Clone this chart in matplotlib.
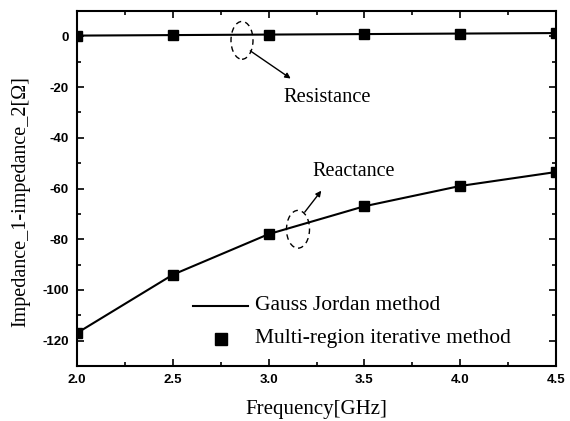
import matplotlib
matplotlib.use("Agg")
import matplotlib.pyplot as plt
from matplotlib.patches import Ellipse
from matplotlib.ticker import MultipleLocator, FormatStrFormatter

plt.rcParams["axes.unicode_minus"] = False

freq = [2.0, 2.5, 3.0, 3.5, 4.0, 4.5]
resistance = [0.3, 0.5, 0.7, 0.9, 1.1, 1.3]
reactance = [-117.0, -94.0, -78.0, -67.0, -59.0, -53.5]

serif = "Liberation Serif"
sans = "Liberation Sans"

fig = plt.figure(figsize=(5.7, 4.21), dpi=100)
ax = fig.add_axes([77/570, 1 - 366/421, (556-77)/570, (366-11)/421])

for y in (resistance, reactance):
    ax.plot(freq, y, color="black", lw=1.5, zorder=2)
    ax.plot(freq, y, ls="none", marker="s", ms=6.5, color="black", zorder=3)

ax.set_xlim(2.0, 4.5)
ax.set_ylim(-130, 10)
ax.xaxis.set_major_locator(MultipleLocator(0.5))
ax.xaxis.set_minor_locator(MultipleLocator(0.25))
ax.yaxis.set_minor_locator(MultipleLocator(10))
ax.set_yticks([0, -20, -40, -60, -80, -100, -120])
ax.xaxis.set_major_formatter(FormatStrFormatter("%.1f"))
ax.tick_params(which="both", direction="in", top=True, right=True, width=1.2)
ax.tick_params(which="major", length=5, labelsize=9.5, pad=6)
ax.tick_params(which="minor", length=3)
for lab in ax.get_xticklabels() + ax.get_yticklabels():
    lab.set_family(sans)
    lab.set_fontweight("bold")
for s in ax.spines.values():
    s.set_linewidth(1.5)

ax.set_xlabel("Frequency[GHz]", family=serif, fontsize=15, labelpad=10)
ax.set_ylabel("Impedance_1-impedance_2[Ω]", family=serif, fontsize=14.5)
ax.yaxis.set_label_coords(-0.098, 0.462)

# annotations
def px2data(px, py):
    x0, x1 = 77, 556
    y0, y1 = 34, 340
    return 2.0 + (px - x0) / (x1 - x0) * 2.5, 0 + (py - y0) / (y1 - y0) * (-120)

ex, ey = px2data(242, 38)
ax.add_patch(Ellipse((ex, ey), 22/479*2.5, 38/306*120, fill=False, ls=(0, (4, 3)), lw=1.0, color="black"))
ex2, ey2 = px2data(298, 228)
ax.add_patch(Ellipse((ex2, ey2), 23/479*2.5, 38/306*120, fill=False, ls=(0, (4, 3)), lw=1.0, color="black"))

ax.annotate("", xy=px2data(293, 78), xytext=px2data(248, 47),
            arrowprops=dict(arrowstyle="-|>", color="black", lw=1.0, mutation_scale=8))
ax.annotate("", xy=px2data(323, 187), xytext=px2data(303, 213),
            arrowprops=dict(arrowstyle="-|>", color="black", lw=1.0, mutation_scale=8))

tx, ty = px2data(327, 95)
ax.text(tx, ty, "Resistance", family=serif, fontsize=14.8, ha="center", va="center")
tx, ty = px2data(354, 170)
ax.text(tx, ty, "Reactance", family=serif, fontsize=14.5, ha="center", va="center")

# legend
lx0, ly = px2data(193, 305)
lx1, _ = px2data(248, 305)
ax.plot([lx0, lx1], [ly, ly], color="black", lw=1.5)
ax.text(px2data(255, 305)[0], ly, "Gauss Jordan method", family=serif, fontsize=15.5, va="center")
mx, my = px2data(221, 338)
ax.plot([mx], [my], ls="none", marker="s", ms=8, color="black")
ax.text(px2data(255, 338)[0], my, "Multi-region iterative method", family=serif, fontsize=15.5, va="center")

fig.savefig("out.png", dpi=100)
